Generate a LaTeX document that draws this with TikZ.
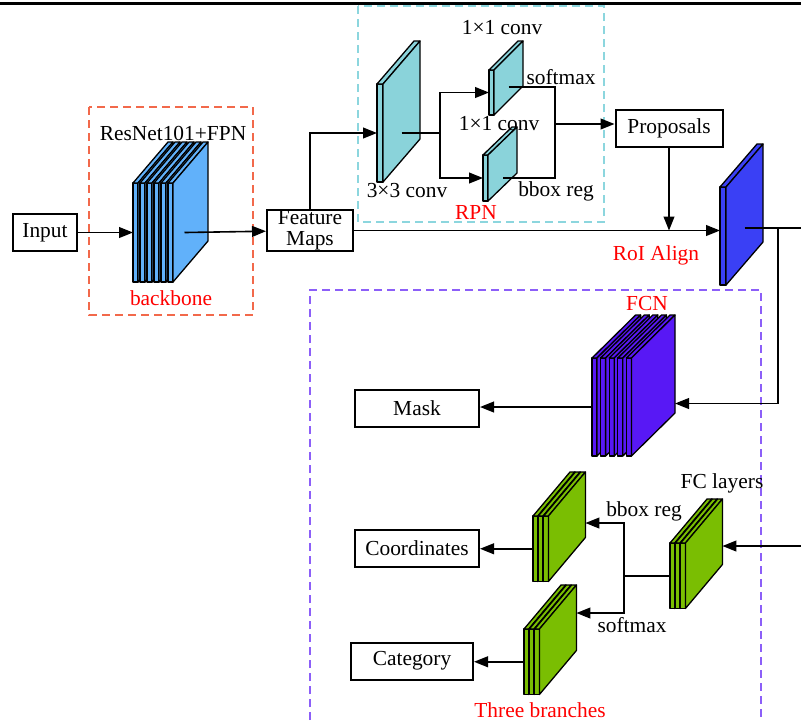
\documentclass[tikz,border=0pt]{standalone}
\usepackage{fontspec}
\setmainfont{Liberation Serif}
\usetikzlibrary{arrows.meta,positioning,calc}
\definecolor{bbBlue}{RGB}{97,177,250}
\definecolor{rpnCyan}{RGB}{138,211,218}
\definecolor{roiBlue}{RGB}{58,64,245}
\definecolor{fcnViolet}{RGB}{88,24,245}
\definecolor{fcGreen}{RGB}{122,190,2}
\definecolor{bbDash}{RGB}{242,105,75}
\definecolor{rpnDash}{RGB}{140,214,222}
\definecolor{headDash}{RGB}{140,95,248}

\begin{document}
\begin{tikzpicture}[
    x=0.5pt, y=-0.5pt,
    font=\fontsize{10.7pt}{10.6pt}\selectfont,
    fmapcol/.store in=\fmapcol, fmapcol=white,
    plate/.style={draw=black, line width=0.65pt, fill=\fmapcol, line join=round},
    blk/.style={draw, line width=1pt, inner sep=1pt, minimum height=18.5pt},
    lbl/.style={inner sep=0pt},
    redlbl/.style={inner sep=0pt, text=red},
    grp/.style={dash pattern=on 4pt off 2.5pt, line width=0.75pt},
    arrow/.style={-{Triangle[length=7pt,width=5.4pt]}, line width=0.8pt},
    conn/.style={line width=0.8pt},
    pics/fmap/.style n args={6}{code={
      \foreach \i in {1,...,#1}{
        \pgfmathsetmacro\fmXa{(\i-1)*(#2)}
        \pgfmathsetmacro\fmXb{\fmXa+#3}
        \filldraw[plate] (\fmXa,0) rectangle (\fmXb,#4);
        \filldraw[plate] (\fmXa,0) -- ++(#5,#6) -- ++(#3,0) -- (\fmXb,0) -- cycle;
        \filldraw[plate] (\fmXb,0) -- ++(#5,#6) -- ++(0,#4) -- (\fmXb,#4) -- cycle;
      }
      \pgfmathsetmacro\fmXr{(#1-1)*(#2)+#3}
      \pgfmathsetmacro\fmXs{\fmXr+0.5*(#5)}
      \pgfmathsetmacro\fmXe{\fmXr+#5}
      \pgfmathsetmacro\fmYm{0.5*#4}
      \pgfmathsetmacro\fmYe{0.5*(#4+(#6))}
      \coordinate (-w) at (0,\fmYm);
      \coordinate (-s) at (\fmXs,\fmYm);
      \coordinate (-e) at (\fmXe,\fmYe);
    }}
  ]
    \useasboundingbox (0,0) rectangle (801,720);
    \draw[line width=1.5pt] (0,3.3) -- (801,3.3);

    \draw[grp, draw=bbDash] (89,107) rectangle (253,315);
    \draw[grp, draw=rpnDash] (358,6) rectangle (604,222);
    \draw[grp, draw=headDash] (310,720) -- (310,290) -- (761,290) -- (761,720);

    \pic[fmapcol=bbBlue] (bb) at (133,183) {fmap={6}{7}{5}{99}{35}{-41}};
    \pic[fmapcol=rpnCyan] (c33) at (377,84) {fmap={1}{0}{6}{98}{37}{-43}};
    \pic[fmapcol=rpnCyan] (r1a) at (489,70) {fmap={1}{0}{5}{45}{29}{-29}};
    \pic[fmapcol=rpnCyan] (r1b) at (483,155) {fmap={1}{0}{5}{46}{29}{-28}};
    \pic[fmapcol=roiBlue] (roi) at (720,187) {fmap={1}{0}{6}{98}{37}{-43}};
    \pic[fmapcol=fcnViolet] (fcn) at (592,358) {fmap={5}{8.6}{5}{98}{43.6}{-43}};
    \pic[fmapcol=fcGreen] (fc) at (670,543) {fmap={3}{5.3}{4.8}{65.5}{37}{-44}};
    \pic[fmapcol=fcGreen] (co) at (533,516) {fmap={3}{5.3}{4.8}{65.5}{37}{-44}};
    \pic[fmapcol=fcGreen] (ca) at (524,629) {fmap={3}{5.3}{4.8}{65.5}{37}{-44}};

    \node[blk, minimum width=32pt] (input) at (45,232.5) {Input};
    \node[blk, minimum width=43pt, minimum height=20.5pt, align=center, inner sep=0pt] (fmaps) at (310,230.5) {Feature\\Maps};
    \node[blk, minimum width=53.5pt] (prop) at (669,128.5) {Proposals};
    \node[blk, minimum width=62pt] (mask) at (417,408) {Mask};
    \node[blk, minimum width=62pt] (coord) at (417,548) {Coordinates};
    \node[blk, minimum width=61pt] (cat) at (412,661) {Category};

    \coordinate (rsplit) at (440,133);
    \coordinate (rjoin) at (555,124);
    \coordinate (roiout) at (778,228);
    \coordinate (edgeA) at (801,228);
    \coordinate (edgeB) at (801,546);
    \coordinate (brtop) at (624,523);
    \coordinate (brbot) at (624,613);

    \draw[arrow] (input) -- (bb-w);
    \draw[arrow] ([xshift=-3pt]bb-s) -- (fmaps);
    \draw[arrow] (fmaps) |- (c33-w);
    \draw[conn] (c33-s) -- (rsplit);
    \draw[arrow] (rsplit) |- (r1a-w);
    \draw[arrow] (rsplit) |- (r1b-w);
    \draw[conn] ([yshift=2.75pt]r1a-s) -| (rjoin) |- (r1b-s);
    \draw[arrow] (rjoin) -- (rjoin -| prop.west);
    \draw[arrow] (prop) -- (prop |- fmaps.east);
    \draw[arrow] (fmaps) -- (fmaps -| roi-w);
    \draw[conn] (roi-s |- edgeA) -- (edgeA);
    \draw[arrow] (roiout) |- ([yshift=-9pt]fcn-e);
    \draw[arrow] (fcn-w) -- (fcn-w -| mask.east);
    \draw[arrow] (edgeB) -- (edgeB -| fc-e);
    \draw[conn] (fc-w) -- (fc-w -| brtop);
    \draw[arrow] (brbot) |- (brtop -| co-e);
    \draw[arrow] (brtop) |- (brbot -| ca-e);
    \draw[arrow] (co-w) -- (co-w -| coord.east);
    \draw[arrow] (ca-w) -- (ca-w -| cat.east);

    \node[lbl] (bbtitle) at (173,133) {ResNet101+FPN};
    \node[redlbl] (bbname) at (171,298) {backbone};
    \node[lbl] (c33lbl) at (407,191) {3×3 conv};
    \node[lbl] (r1albl) at (502,28) {1×1 conv};
    \node[lbl] (smaxa) at (561,77) {softmax};
    \node[lbl] (r1blbl) at (499,124) {1×1 conv};
    \node[lbl] (brega) at (556,191) {bbox reg};
    \node[redlbl] (rpnlbl) at (476,212) {RPN};
    \node[redlbl] (roilbl) at (656,255) {RoI Align};
    \node[redlbl] (fcnlbl) at (647,304) {FCN};
    \node[lbl] (fclbl) at (722,483) {FC layers};
    \node[lbl] (bregb) at (644,511) {bbox reg};
    \node[lbl] (smaxb) at (632,625) {softmax};
    \node[redlbl] (brlbl) at (540,710) {Three branches};
  \end{tikzpicture}
\end{document}
